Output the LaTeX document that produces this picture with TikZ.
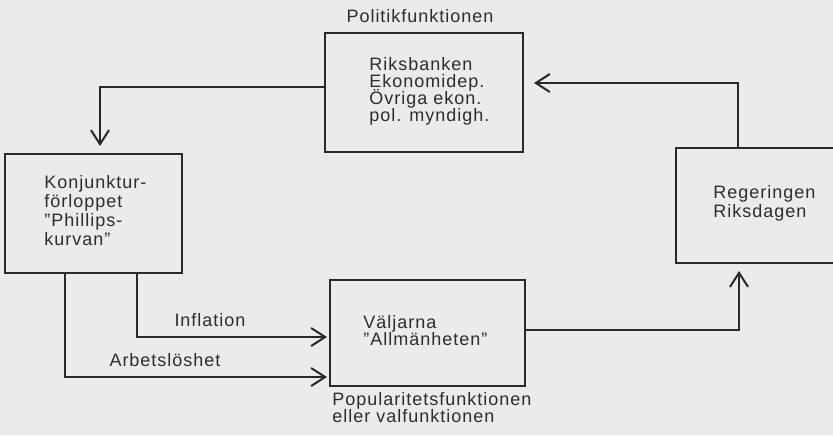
\documentclass[tikz,border=0pt]{standalone}
\usepackage{fontspec}
\setmainfont{Liberation Sans}[LetterSpace=5.5]
\usetikzlibrary{arrows.meta,calc}
\definecolor{bg}{RGB}{233,236,233}
\definecolor{ink}{RGB}{40,40,46}
\definecolor{txt}{RGB}{45,45,48}
\tikzset{
  box/.style={draw=ink, line width=1pt, rectangle, inner sep=0pt},
  arr/.style={draw=ink, line width=1pt, -{Straight Barb[length=7pt,width=9pt]}},
  lbl/.style={text=txt, inner sep=0pt, font=\fontsize{9}{11}\selectfont},
  blk/.style={text=txt, inner sep=0pt, align=left, anchor=west},
}
\newcommand{\tightlines}[1]{\fontsize{9}{#1}\selectfont\lineskiplimit=-100pt\relax}
\begin{document}
\begin{tikzpicture}[x=0.5pt,y=-0.5pt]
\useasboundingbox (0,0) rectangle (833,435);
\fill[bg] (0,0) rectangle (833,435);
\clip (0,0) rectangle (833,435);
% boxes
\node[box, minimum width=99pt, minimum height=59.5pt] (pol) at (424,92.5) {};
\node[box, minimum width=88.5pt, minimum height=59.5pt] (konj) at (93.5,213.5) {};
\node[box, minimum width=97.5pt, minimum height=53pt] (valj) at (427.5,333) {};
\node[box, minimum width=112pt, minimum height=57.5pt] (reg) at (788,205.5) {};
% texts
\node[lbl] (poltitle) at (420,16) {Politikfunktionen};
\node[blk, font=\tightlines{8.5pt}] (poltext) at (369,91) {Riksbanken\\Ekonomidep.\\Övriga ekon.\\pol. myndigh.};
\node[blk, font=\tightlines{9.5pt}] (konjtext) at (44,211) {Konjunktur-\\förloppet\\”Phillips-\\kurvan”};
\node[blk, font=\tightlines{8.5pt}] (valjtext) at (363,330.5) {Väljarna\\”Allmänheten”};
\node[blk, font=\tightlines{9.5pt}] (regtext) at (713,203.5) {Regeringen\\Riksdagen};
\node[blk, font=\tightlines{8.5pt}] (poptext) at (332,408) {Popularitetsfunktionen\\eller valfunktionen};
\node[lbl] (infl) at (210,320) {Inflation};
\node[lbl] (arb) at (165,360) {Arbetslöshet};
% connectors
\draw[arr] ($(reg.north west)+(63,0)$) |- ($(pol.east)+(10,-9.5)$);
\draw[arr] ($(pol.west)+(0,-5.5)$) -| ($(konj.north)+(6.5,-7)$);
\draw[arr] ($(konj.south)+(43.5,0)$) |- ($(valj.west)+(-2,4)$);
\draw[arr] ($(konj.south)+(-28.5,0)$) |- ($(valj.west)+(-2,44)$);
\draw[arr] ($(valj.east)+(0,-3)$) -| ($(reg.south west)+(64,7)$);
\end{tikzpicture}
\end{document}
